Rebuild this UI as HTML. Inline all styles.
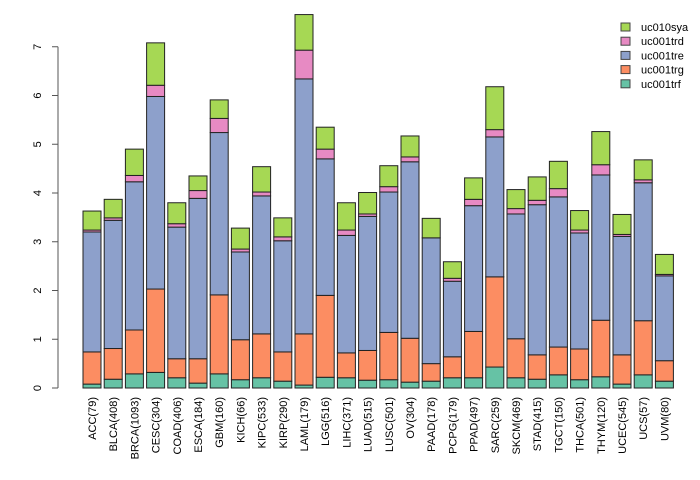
<!DOCTYPE html>
<html><head><meta charset="utf-8"><style>
html,body{margin:0;padding:0;background:#fff;}
svg{display:block;font-family:"Liberation Sans",sans-serif;}
</style></head><body>
<svg id="chart" width="700" height="480" viewBox="0 0 700 480"></svg>
<script>
const categories=["ACC(79)","BLCA(408)","BRCA(1093)","CESC(304)","COAD(406)","ESCA(184)","GBM(160)","KICH(66)","KIPC(533)","KIRP(290)","LAML(179)","LGG(516)","LIHC(371)","LUAD(515)","LUSC(501)","OV(304)","PAAD(178)","PCPG(179)","PPAD(497)","SARC(259)","SKCM(469)","STAD(415)","TGCT(150)","THCA(501)","THYM(120)","UCEC(545)","UCS(57)","UVM(80)"];
const uc001trf=[0.08,0.18,0.29,0.32,0.21,0.10,0.29,0.17,0.21,0.14,0.06,0.22,0.21,0.16,0.17,0.12,0.14,0.21,0.21,0.43,0.21,0.18,0.27,0.17,0.23,0.08,0.27,0.14];
const uc001trg=[0.66,0.63,0.90,1.71,0.39,0.50,1.62,0.82,0.90,0.60,1.05,1.68,0.51,0.61,0.97,0.90,0.36,0.43,0.95,1.85,0.80,0.50,0.57,0.63,1.16,0.60,1.11,0.42];
const uc001tre=[2.46,2.63,3.04,3.95,2.70,3.29,3.33,1.80,2.83,2.28,5.23,2.80,2.41,2.75,2.88,3.62,2.58,1.55,2.58,2.87,2.56,3.08,3.08,2.38,2.98,2.43,2.83,1.74];
const uc001trd=[0.04,0.05,0.13,0.23,0.07,0.16,0.29,0.06,0.08,0.08,0.59,0.20,0.11,0.05,0.11,0.10,0.00,0.06,0.13,0.15,0.11,0.09,0.17,0.06,0.21,0.04,0.06,0.03];
const uc010sya=[0.39,0.38,0.54,0.87,0.43,0.30,0.38,0.43,0.52,0.39,0.73,0.45,0.56,0.44,0.43,0.43,0.40,0.34,0.44,0.88,0.39,0.48,0.56,0.40,0.68,0.41,0.41,0.41];
const seriesNames=["uc001trf","uc001trg","uc001tre","uc001trd","uc010sya"];
const seriesColors=["#66c2a5","#fc8d62","#8da0cb","#e78ac3","#a6d854"];
const yTicks=[0,1,2,3,4,5,6,7];
const allSeries=[uc001trf,uc001trg,uc001tre,uc001trd,uc010sya];

const NS="http://www.w3.org/2000/svg";
const svg=document.getElementById('chart');
function mk(t,a,p){const e=document.createElementNS(NS,t);for(const k in a)e.setAttribute(k,a[k]);(p||svg).appendChild(e);return e;}
const y0=388, unit=48.75;
function yS(v){return y0-v*unit;}
function xS(i){return 92+i*21.2;}
const bw=18;

const gBars=mk('g',{});


categories.forEach((c,i)=>{
  let cum=0;
  allSeries.forEach((s,k)=>{
    const v=s[i];
    const r=mk('rect',{x:xS(i)-bw/2,y:yS(cum+v),width:bw,height:v*unit,fill:seriesColors[k],stroke:'#222','stroke-width':1},gBars);
    
    
    cum+=v;
  });
  const t=mk('text',{x:0,y:0,'font-size':11,fill:'#000','text-anchor':'end',transform:`translate(${xS(i)+4},397) rotate(-90)`});
  t.textContent=c;
  
  
});

const ax=mk('g',{});


mk('line',{x1:58,x2:58,y1:yS(0),y2:yS(7),stroke:'#555'},ax);
yTicks.forEach(v=>{
  mk('line',{x1:52,x2:58,y1:yS(v),y2:yS(v),stroke:'#555'},ax);
  const t=mk('text',{x:0,y:0,'font-size':11,fill:'#000','text-anchor':'middle',transform:`translate(41,${yS(v)}) rotate(-90)`},ax);
  t.textContent=v;
  
  
});

const lg=mk('g',{});


for(let k=4;k>=0;k--){
  const row=4-k, yy=27+row*14.2;
  const e=mk('g',{},lg);
  
  
  mk('rect',{x:621,y:yy-4,width:9,height:8,fill:seriesColors[k],stroke:'#444'},e);
  const t=mk('text',{x:641,y:yy+4,'font-size':11,fill:'#000'},e);
  t.textContent=seriesNames[k];
}
</script>
</body></html>
